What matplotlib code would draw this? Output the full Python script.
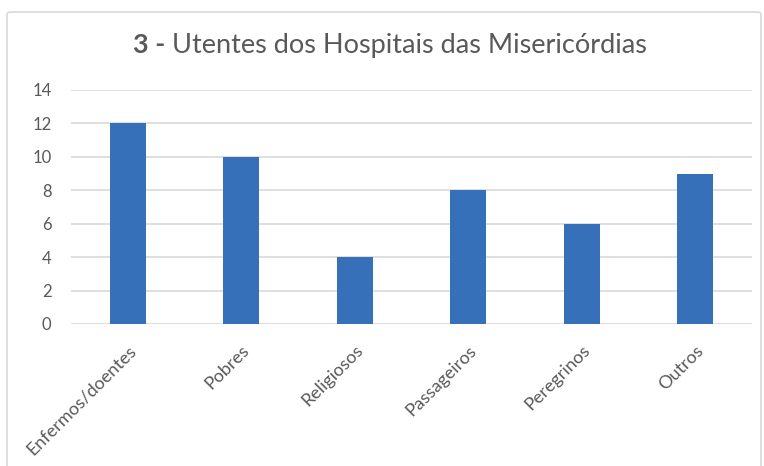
import matplotlib
matplotlib.use("Agg")
import matplotlib.pyplot as plt
from matplotlib.patches import FancyBboxPatch

# ── Data ────────────────────────────────────────────────────────────────
categories = ["Enfermos/doentes", "Pobres", "Religiosos", "Passageiros",
              "Peregrinos", "Outros"]
values = [12, 10, 4, 8, 6, 9]
y_ticks = [0, 2, 4, 6, 8, 10, 12, 14]
title_bold = "3 -"
title_rest = " Utentes dos Hospitais das Misericórdias"

W, H = 764, 466
TEXT = "#595959"
GRID = "#D9D9D9"
BAR = "#3570B8"

plt.rcParams["font.family"] = ["Lato", "DejaVu Sans"]

fig = plt.figure(figsize=(W / 100, H / 100), dpi=100)
fig.patch.set_facecolor("white")

# chart frame (Excel style)
frame = FancyBboxPatch((7 / W, -20 / H), 754 / W, (H - 12 + 20) / H,
                       boxstyle="round,pad=0,rounding_size=0.005",
                       transform=fig.transFigure, fill=False,
                       edgecolor=GRID, lw=1.2, clip_on=False)
fig.patches.append(frame)

# plot area in pixel coordinates
left, right, top, bottom = 71, 752, 90, 324
ax = fig.add_axes([left / W, (H - bottom) / H, (right - left) / W,
                   (bottom - top) / H])

x = range(len(categories))
ax.bar(x, values, width=0.32, color=BAR, zorder=3)

ax.set_xlim(-0.5, len(categories) - 0.5)
ax.set_ylim(0, 14)
ax.set_yticks(y_ticks)
ax.set_yticklabels([str(v) for v in y_ticks], fontsize=12, color=TEXT)
ax.set_xticks(list(x))
ax.set_xticklabels(categories, rotation=45, ha="right", rotation_mode="anchor",
                   fontsize=13, color=TEXT)
ax.tick_params(axis="both", length=0)
ax.tick_params(axis="y", pad=14)
ax.tick_params(axis="x", pad=13)

ax.grid(axis="y", color=GRID, lw=1.2, zorder=0)
for s in ax.spines.values():
    s.set_visible(False)

# title: bold number + regular text
t1 = fig.text(0, (H - 45) / H, title_bold, fontsize=19.5, fontweight="bold",
              color=TEXT, va="center", ha="left")
t2 = fig.text(0, (H - 45) / H, title_rest, fontsize=19.5, color=TEXT,
              va="center", ha="left")
fig.canvas.draw()
r = fig.canvas.get_renderer()
w1 = t1.get_window_extent(r).width
w2 = t2.get_window_extent(r).width
x0 = 390 - (w1 + w2) / 2
t1.set_x(x0 / W)
t2.set_x((x0 + w1) / W)

fig.savefig("out.png", dpi=100)
